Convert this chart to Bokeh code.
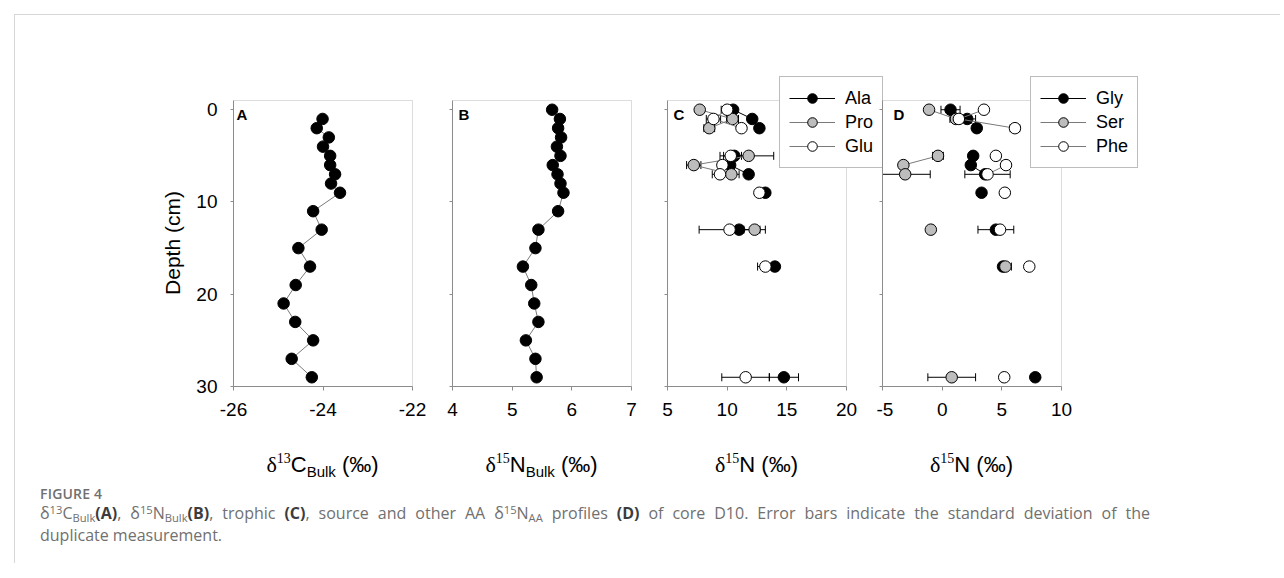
from bokeh.plotting import figure
from bokeh.models import (Range1d, FixedTicker, Whisker, ColumnDataSource, Legend,
                          LegendItem, Label, Div, TeeHead, BoxAnnotation,
                          NumeralTickFormatter)
from bokeh.layouts import row, column
from bokeh.embed import file_html
from bokeh.resources import INLINE
import math

nan = float("nan")

# ---- bulk profiles (panels A, B) ----
depth_c13 = [1, 2, 3, 4, 5, 6, 7, 8, 9, 11, 13, 15, 17, 19, 21, 23, 25, 27, 29]
c13_bulk = [-24.01, -24.14, -23.87, -24.00, -23.84, -23.84, -23.73, -23.82, -23.62,
            -24.22, -24.03, -24.55, -24.29, -24.61, -24.88, -24.62, -24.22, -24.70, -24.25]

depth_n15 = [0, 1, 2, 3, 4, 5, 6, 7, 8, 9, 11, 13, 15, 17, 19, 21, 23, 25, 27, 29]
n15_bulk = [5.67, 5.80, 5.77, 5.82, 5.75, 5.81, 5.68, 5.76, 5.81, 5.86,
            5.77, 5.44, 5.39, 5.18, 5.32, 5.37, 5.44, 5.23, 5.39, 5.41]

# ---- amino acid d15N profiles (panels C, D) ----
depth_aa = [0, 1, 2, 5, 6, 7, 9, 13, 17, 29]

ala = [10.5, 12.1, 12.7, 10.6, 10.25, 11.8, 13.2, 11.0, 14.0, 14.75]
ala_sd = [nan, nan, nan, nan, nan, nan, nan, nan, nan, 1.23]
pro = [7.7, 10.45, 8.5, 11.8, 7.2, 10.35, nan, 12.3, nan, nan]
pro_sd = [nan, 0.5, 0.45, 2.1, 0.6, 0.65, nan, 0.9, nan, nan]
glu = [10.0, 8.85, 11.2, 10.3, 9.6, 9.4, 12.7, 10.2, 13.2, 11.55]
glu_sd = [0.5, 0.6, nan, 0.9, nan, 0.65, nan, 2.55, 0.65, 2.0]

gly = [0.7, 2.1, 2.9, 2.6, 2.4, 3.6, 3.3, 4.5, 5.1, 7.8]
gly_sd = [0.8, 0.7, nan, nan, nan, nan, nan, 1.5, nan, nan]
ser = [-1.1, 1.15, nan, -0.35, -3.25, -3.1, nan, -0.95, 5.3, 0.8]
ser_sd = [nan, 0.5, nan, 0.45, nan, 2.1, nan, nan, 0.5, 2.0]
phe = [3.5, 1.4, 6.1, 4.5, 5.35, 3.8, 5.25, 4.85, 7.3, 5.2]
phe_sd = [nan, nan, 0.4, nan, nan, 1.9, nan, nan, nan, nan]

depth_ticks = [0, 10, 20, 30]
DEPTH_TOP, DEPTH_BOTTOM = -1, 30

# layout (pixels)
FRAME_W, FRAME_H = 179, 286
TOP, BOTTOM = 60, 50
EXTRA_TOP = 25                   # room above each box for the legends
DEPTH_W = 170                    # column holding the rotated depth title
AXIS_GRAY = "#8c8c8c"
LINE_GRAY = "#7a7a7a"
FILL_GRAY = "#bdbdbd"
SANS = "Liberation Sans"
MARK = 11.5

A_LR, A_EXTRA = (48, 18), 2
B_LR, B_EXTRA = (20, 16), 2
C_LR, C_EXTRA = (18, 0), 42
D_LR, D_EXTRA = (6, 130), 89
D_OVERLAP = 12


def panel(x0, x1, ticks, lr, extra_right, margin=None):
    """One profile panel. The drawing area is widened above and to the right of the
    boxed region so that the legends can overlap the box edges."""
    left, right = lr
    ux = FRAME_W / (x1 - x0)
    uy = FRAME_H / (DEPTH_BOTTOM - DEPTH_TOP)
    fw = FRAME_W + extra_right
    p = figure(width=left + fw + right, height=TOP + EXTRA_TOP + FRAME_H + BOTTOM,
               x_range=Range1d(x0, x1 + extra_right / ux),
               y_range=Range1d(DEPTH_BOTTOM, DEPTH_TOP - EXTRA_TOP / uy),
               min_border_left=left, min_border_right=right,
               min_border_top=TOP, min_border_bottom=BOTTOM,
               output_backend="svg", toolbar_location=None)
    p.background_fill_alpha = 0
    p.border_fill_alpha = 0
    p.outline_line_color = None
    p.margin = margin if margin is not None else 0
    p.grid.visible = False
    p.xaxis.ticker = FixedTicker(ticks=ticks, minor_ticks=[])
    p.xaxis.formatter = NumeralTickFormatter(format="0")
    p.yaxis.ticker = FixedTicker(ticks=depth_ticks, minor_ticks=[])
    for ax in p.axis:
        ax.axis_line_color = AXIS_GRAY
        ax.major_tick_line_color = AXIS_GRAY
        ax.major_tick_in = 0
        ax.minor_tick_line_color = None
        ax.major_label_text_font = SANS
        ax.major_label_text_font_size = "19px"
        ax.major_label_text_color = "black"
    p.xaxis.major_tick_out = 4
    p.xaxis.major_label_standoff = 12
    p.xaxis.bounds = (x0, x1)
    p.yaxis.major_tick_out = 3
    p.yaxis.bounds = (DEPTH_TOP, DEPTH_BOTTOM)
    p.add_layout(BoxAnnotation(left=x0, right=x1, top=DEPTH_TOP, bottom=DEPTH_BOTTOM,
                               fill_color=None, line_color=AXIS_GRAY, line_width=1))
    return p


def hide_depth_labels(p):
    # inner panels keep the depth tick marks only
    p.yaxis.major_label_text_color = None
    p.yaxis.major_label_text_font_size = "1px"
    p.yaxis.major_label_standoff = 0


def panel_letter(p, x0, letter, dx):
    p.add_layout(Label(x=x0, y=DEPTH_TOP, x_offset=dx, y_offset=-5, text=letter,
                       text_font=SANS, text_font_style="bold", text_font_size="15px",
                       text_color="black", text_baseline="top", text_align="left"))


def broken(depths, values):
    # NaN between non-adjacent depths so a profile line breaks across gaps
    xs, ys, prev = [], [], None
    for d, v in zip(depths, values):
        if prev is not None and d - prev > 1:
            xs.append(nan)
            ys.append(nan)
        xs.append(v)
        ys.append(d)
        prev = d
    return xs, ys


def aa_series(p, values, sds, fill, line_color):
    xs, ys = broken(depth_aa, values)
    ln = p.line(xs, ys, line_color=line_color, line_width=1)
    rows = [(d, v, s) for d, v, s in zip(depth_aa, values, sds)
            if not (math.isnan(v) or math.isnan(s))]
    if rows:
        src = ColumnDataSource(dict(y=[r[0] for r in rows],
                                    lo=[r[1] - r[2] for r in rows],
                                    hi=[r[1] + r[2] for r in rows]))
        p.add_layout(Whisker(base="y", lower="lo", upper="hi", dimension="width",
                             source=src, line_color="black", line_width=1, level="underlay",
                             lower_head=TeeHead(size=8, line_color="black", line_width=1),
                             upper_head=TeeHead(size=8, line_color="black", line_width=1)))
    sc = p.scatter(values, depth_aa, size=MARK, fill_color=fill,
                   line_color="black", line_width=1)
    return [ln, sc]


def legend(p, entries, loc):
    p.add_layout(Legend(items=[LegendItem(label=n, renderers=r) for n, r in entries],
                        location=loc, orientation="vertical",
                        border_line_color="#7a7a7a", border_line_width=1,
                        background_fill_color="white", background_fill_alpha=1,
                        label_text_font=SANS, label_text_font_size="18px",
                        label_text_color="black", glyph_width=46, glyph_height=24,
                        label_height=20, spacing=0, padding=9, label_standoff=10,
                        margin=0))


# Panel A: bulk d13C
pa = panel(-26, -22, [-26, -24, -22], A_LR, A_EXTRA)
pa.yaxis.major_label_standoff = 13
pa.line(c13_bulk, depth_c13, line_color=LINE_GRAY, line_width=1)
pa.scatter(c13_bulk, depth_c13, size=MARK, fill_color="black", line_color="black")
panel_letter(pa, -26, "A", 3)

# Panel B: bulk d15N
pb = panel(4, 7, [4, 5, 6, 7], B_LR, B_EXTRA)
hide_depth_labels(pb)
pb.line(n15_bulk, depth_n15, line_color=LINE_GRAY, line_width=1)
pb.scatter(n15_bulk, depth_n15, size=MARK, fill_color="black", line_color="black")
panel_letter(pb, 4, "B", 6)

# Panel C: trophic amino acids
pc = panel(5, 20, [5, 10, 15, 20], C_LR, C_EXTRA)
hide_depth_labels(pc)
r_ala = aa_series(pc, ala, ala_sd, "black", "black")
r_pro = aa_series(pc, pro, pro_sd, FILL_GRAY, LINE_GRAY)
r_glu = aa_series(pc, glu, glu_sd, "white", LINE_GRAY)
panel_letter(pc, 5, "C", 6)
legend(pc, [("Ala", r_ala), ("Pro", r_pro), ("Glu", r_glu)], (112, 218))

# Panel D: source and other amino acids
pd_ = panel(-5, 10, [-5, 0, 5, 10], D_LR, D_EXTRA, margin=(0, 0, 0, -D_OVERLAP))
hide_depth_labels(pd_)
r_gly = aa_series(pd_, gly, gly_sd, "black", "black")
r_ser = aa_series(pd_, ser, ser_sd, FILL_GRAY, LINE_GRAY)
r_phe = aa_series(pd_, phe, phe_sd, "white", LINE_GRAY)
panel_letter(pd_, -5, "D", 11)
legend(pd_, [("Gly", r_gly), ("Ser", r_ser), ("Phe", r_phe)], (148, 218))

# ---- titles ----
plot_h = TOP + EXTRA_TOP + FRAME_H + BOTTOM
box_mid_y = TOP + EXTRA_TOP + FRAME_H / 2
depth_title = Div(
    text=(f'<div style="position:relative;width:{DEPTH_W}px;height:{plot_h}px;">'
          f'<div style="position:absolute;left:{DEPTH_W - 12}px;top:{box_mid_y}px;'
          'transform:translate(-50%,-50%) rotate(-90deg);white-space:nowrap;'
          'font-family:\'Liberation Sans\';font-size:21px;line-height:24px;color:black;">'
          'Depth (cm)</div></div>'),
    width=DEPTH_W, height=plot_h, margin=0)

# centres of the four boxes, measured from the row origin
a_left = DEPTH_W + A_LR[0]
b_left = a_left + FRAME_W + A_EXTRA + A_LR[1] + B_LR[0]
c_left = b_left + FRAME_W + B_EXTRA + B_LR[1] + C_LR[0]
d_left = c_left + FRAME_W + C_EXTRA + C_LR[1] - D_OVERLAP + D_LR[0]
centres = [x + FRAME_W / 2 for x in (a_left, b_left, c_left, d_left)]

SUP = '<span style="font-family:\'Liberation Serif\';font-size:14px;position:relative;top:-9px;">'
SUB = '<span style="font-size:15px;position:relative;top:5px;">'


def axis_title(cx, iso, elem, subscript):
    sub = f'{SUB}{subscript}</span>' if subscript else ''
    return (f'<div style="position:absolute;left:{cx}px;top:16px;transform:translateX(-50%);'
            'white-space:nowrap;font-family:\'Liberation Sans\';font-size:22px;'
            'line-height:26px;color:black;">'
            '<span style="font-family:\'Liberation Serif\';">δ</span>'
            f'{SUP}{iso}</span>{elem}{sub} (‰)</div>')


titles = Div(text=('<div style="position:relative;width:1260px;height:50px;">'
                   + axis_title(centres[0], "13", "C", "Bulk")
                   + axis_title(centres[1], "15", "N", "Bulk")
                   + axis_title(centres[2], "15", "N", "")
                   + axis_title(centres[3], "15", "N", "")
                   + '</div>'),
             width=1260, height=50, margin=0)

sup = '<span style="font-size:70%;position:relative;top:-0.45em;">'
sub = '<span style="font-size:70%;position:relative;top:0.3em;">'
bold = '<b style="color:#3c3c3c;">'
caption = Div(
    text=(
        '<div style="font-family:\'Open Sans\',sans-serif;color:#707070;white-space:nowrap;">'
        '<div style="font-size:14px;line-height:16px;font-weight:600;letter-spacing:0.2px;">FIGURE 4</div>'
        '<div style="font-size:16px;line-height:20px;margin-top:1px;width:1110px;'
        'text-align:justify;text-align-last:justify;">'
        f'δ{sup}13</span>C{sub}Bulk</span>{bold}(A)</b>, '
        f'δ{sup}15</span>N{sub}Bulk</span>{bold}(B)</b>, trophic {bold}(C)</b>, '
        f'source and other AA δ{sup}15</span>N{sub}AA</span> profiles {bold}(D)</b> '
        'of core D10. Error bars indicate the standard deviation of the</div>'
        '<div style="font-size:16px;line-height:20px;">duplicate measurement.</div>'
        '</div>'
    ),
    width=1230, height=77, margin=(0, 0, 0, 25))

page = column(row(depth_title, pa, pb, pc, pd_), titles, caption, margin=(14, 0, 0, 14),
              styles={"border-top": "1px solid #d6d6d6", "border-left": "1px solid #d6d6d6"})

open("out.html", "w").write(file_html(page, INLINE))
